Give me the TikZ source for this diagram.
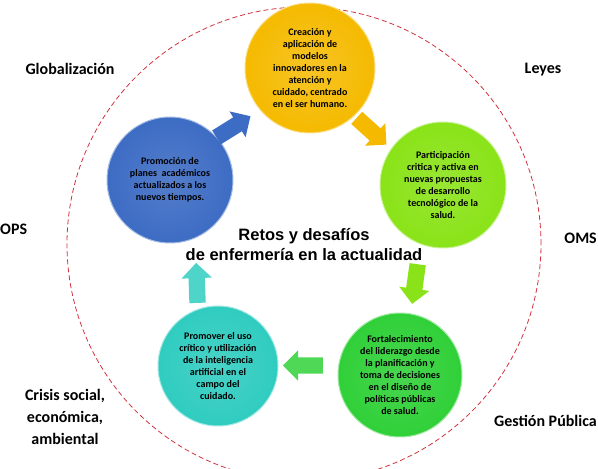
\documentclass[tikz,border=0pt]{standalone}
\usepackage{fontspec}
\setmainfont{Carlito}
\newfontfamily\arialfont{Liberation Sans}
\usepackage{tikz}
\usepackage{xcolor}
\usetikzlibrary{shapes.arrows,calc}
\definecolor{RetoAmarillo}{HTML}{F5BA00}
\definecolor{RetoLima}{HTML}{8AE318}
\definecolor{RetoVerde}{HTML}{30D038}
\definecolor{RetoTurquesa}{HTML}{30CCC0}
\definecolor{RetoAzul}{HTML}{3D6CC4}
\definecolor{RetoRojo}{HTML}{D0313D}
\tikzset{
    % Base bubble style
    basebubble/.style={
        circle,
        line width=1pt,
        inner sep=0pt,
        minimum size=126pt,
        align=center,
        font=\bfseries\fontsize{10}{12}\selectfont
    },
    % Coloured bubbles
    yellowbubble/.style={basebubble, shading=radial, inner color=RetoAmarillo!85!white, outer color=RetoAmarillo, draw=RetoAmarillo!45!white},
    limebubble/.style={basebubble, shading=radial, inner color=RetoLima!88!white, outer color=RetoLima, draw=RetoLima!45!white},
    greenbubble/.style={basebubble, shading=radial, inner color=RetoVerde!88!white, outer color=RetoVerde, draw=RetoVerde!45!white},
    cyanbubble/.style={basebubble, shading=radial, inner color=RetoTurquesa!88!white, outer color=RetoTurquesa, draw=RetoTurquesa!45!white},
    bluebubble/.style={basebubble, shading=radial, inner color=RetoAzul!88!white, outer color=RetoAzul, draw=RetoAzul!45!white},
    % Block arrow style
    blockarrow/.style={
        single arrow,
        inner sep=8pt,
        minimum height=40pt,
        single arrow head extend=7pt
    },
    % Outside label style
    outerlabel/.style={
        align=center,
        font=\bfseries\fontsize{16}{22}\selectfont
    },
    % Title style
    titlenode/.style={
        align=center,
        font=\arialfont\bfseries\fontsize{16.5}{20}\selectfont
    },
    % Dashed ring
    ringline/.style={
        draw=RetoRojo,
        line width=0.8pt,
        dash pattern=on 5pt off 3pt
    }
}

\begin{document}
\begin{tikzpicture}[x=1pt, y=1pt]
        \useasboundingbox (0,0) rectangle (598,469);

        % Ring
        \node[circle, minimum size=474pt, inner sep=0pt] (ring) at (304,225) {};
        \draw[ringline] (ring.center) circle (237);

        % Bubbles
        \node[yellowbubble, minimum size=130pt] (crea) at (310,401) {Creación y\\aplicación de\\modelos\\innovadores en la\\atención y\\cuidado, centrado\\en el ser humano.};
        \node[limebubble] (parti) at (443,284) {Participación\\critica y activa en\\nuevas propuestas\\de desarrollo\\tecnológico de la\\salud.};
        \node[greenbubble, minimum size=124pt] (forta) at (400,94) {Fortalecimiento\\del liderazgo desde\\la planificación y\\toma de decisiones\\en el diseño de\\políticas públicas\\de salud.};
        \node[cyanbubble, minimum size=120pt] (promo) at (218,103) {Promover el uso\\crítico y utilización\\de la inteligencia\\artificial en el\\campo del\\cuidado.};
        \node[bluebubble] (planes) at (170,289) {Promoción de\\planes\ \ académicos\\actualizados a los\\nuevos tiempos.};

        % Title
        \node[titlenode] (title) at (304,224) {Retos y desafíos\\de enfermería en la actualidad};

        % Arrows
        \node[blockarrow, fill=RetoAzul, rotate=32] (a1) at ($(planes)!0.5!(crea)+(-10,-5)$) {};
        \node[blockarrow, fill=RetoAmarillo, rotate=-42] (a2) at ($(crea)!0.5!(parti)+(-8,-2)$) {};
        \node[blockarrow, fill=RetoLima, rotate=-98] (a3) at ($(parti)!0.5!(forta)+(-6,0)$) {};
        \node[blockarrow, fill=RetoVerde!85!white, rotate=180] (a4) at ($(forta)!0.5!(promo)+(-2,5)$) {};
        \node[blockarrow, fill=RetoTurquesa!85!white, rotate=92] (a5) at ($(promo)!0.5!(planes)+(3,-14)$) {};

        % Outside labels
        \node[outerlabel] (glob) at (70,400) {Globalización};
        \node[outerlabel] (leyes) at (543,399) {Leyes};
        \node[outerlabel, anchor=west, inner sep=0pt] (ops) at (0,240) {OPS};
        \node[outerlabel, anchor=east, inner sep=0pt] (oms) at (597,231) {OMS};
        \node[outerlabel] (crisis) at (65,52) {Crisis social,\\económica,\\ambiental};
        \node[outerlabel, anchor=east, inner sep=0pt] (gestion) at (597,48) {Gestión Pública};
    \end{tikzpicture}
\end{document}
